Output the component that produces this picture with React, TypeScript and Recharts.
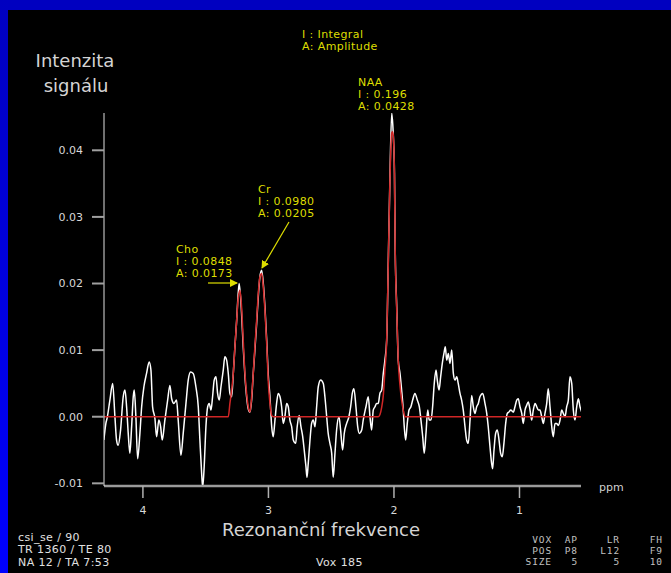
import { LineChart, Line, XAxis, YAxis } from "recharts";

// measured spectrum (white trace)
const specPpm = [
  4.311, 4.295, 4.284, 4.263, 4.241, 4.223, 4.21, 4.197, 4.178, 4.157,
  4.143, 4.13, 4.117, 4.104, 4.09, 4.077, 4.069, 4.056, 4.042, 4.024,
  4.01, 3.992, 3.971, 3.95, 3.936, 3.923, 3.904, 3.891, 3.873, 3.859,
  3.846, 3.825, 3.803, 3.785, 3.771, 3.753, 3.732, 3.719, 3.697, 3.679,
  3.657, 3.639, 3.62, 3.599, 3.578, 3.559, 3.546, 3.532, 3.524, 3.512,
  3.498, 3.484, 3.472, 3.458, 3.445, 3.432, 3.418, 3.405, 3.392, 3.378,
  3.36, 3.347, 3.333, 3.32, 3.307, 3.293, 3.28, 3.267, 3.253, 3.241,
  3.233, 3.214, 3.201, 3.187, 3.174, 3.161, 3.147, 3.134, 3.121, 3.108,
  3.094, 3.081, 3.068, 3.054, 3.041, 3.028, 3.014, 3.002, 2.988, 2.974,
  2.962, 2.948, 2.935, 2.922, 2.908, 2.895, 2.882, 2.869, 2.855, 2.842,
  2.829, 2.815, 2.802, 2.783, 2.771, 2.755, 2.741, 2.727, 2.715, 2.701,
  2.693, 2.683, 2.669, 2.656, 2.643, 2.629, 2.616, 2.603, 2.584, 2.563,
  2.55, 2.536, 2.524, 2.51, 2.496, 2.484, 2.47, 2.457, 2.438, 2.425,
  2.409, 2.396, 2.377, 2.359, 2.345, 2.332, 2.319, 2.303, 2.289, 2.276,
  2.257, 2.245, 2.223, 2.205, 2.191, 2.178, 2.165, 2.151, 2.138, 2.125,
  2.112, 2.098, 2.085, 2.072, 2.058, 2.045, 2.032, 2.018, 2.006, 1.996,
  1.99, 1.978, 1.966, 1.952, 1.939, 1.926, 1.918, 1.907, 1.894, 1.88,
  1.865, 1.851, 1.833, 1.814, 1.798, 1.785, 1.771, 1.759, 1.745, 1.731,
  1.719, 1.705, 1.692, 1.679, 1.665, 1.655, 1.641, 1.628, 1.615, 1.602,
  1.591, 1.58, 1.567, 1.554, 1.54, 1.527, 1.514, 1.5, 1.488, 1.474,
  1.461, 1.448, 1.434, 1.421, 1.408, 1.394, 1.381, 1.368, 1.355, 1.341,
  1.328, 1.315, 1.293, 1.275, 1.261, 1.249, 1.235, 1.222, 1.214, 1.203,
  1.19, 1.177, 1.163, 1.15, 1.137, 1.124, 1.11, 1.097, 1.084, 1.07,
  1.049, 1.036, 1.022, 1.01, 0.996, 0.982, 0.97, 0.956, 0.943, 0.93,
  0.916, 0.903, 0.89, 0.876, 0.863, 0.85, 0.837, 0.823, 0.81, 0.797,
  0.783, 0.771, 0.757, 0.743, 0.731, 0.717, 0.704, 0.691, 0.677, 0.664,
  0.651, 0.637, 0.624, 0.611, 0.598, 0.584, 0.571, 0.558, 0.544, 0.531,
  0.518, 0.504,
];

const specSignal = [
  -0.0035, -0.001, -0.0001, 0.0025, 0.005, 0.0, -0.0035, -0.0043, -0.002, 0.003,
  0.004, 0.0015, -0.0025, -0.0055, -0.0015, 0.003, 0.004, 0.0, -0.0063, -0.0025,
  0.0015, 0.0045, 0.0065, 0.0082, 0.007, 0.0015, -0.0003, -0.003, -0.0005, -0.0015,
  -0.0035, -0.0005, 0.0025, 0.0047, 0.0027, 0.002, 0.0025, -0.0005, -0.0058, -0.0025,
  0.002, 0.0055, 0.0067, 0.0065, 0.0045, 0.0015, -0.0035, -0.0085, -0.0106, -0.0075,
  -0.0015, 0.0015, 0.002, 0.001, 0.003, 0.0055, 0.006, 0.0035, 0.0025, 0.0045,
  0.007, 0.009, 0.0085, 0.0065, 0.0035, 0.003, 0.0065, 0.0105, 0.0145, 0.0185,
  0.02, 0.0155, 0.0105, 0.006, 0.003, 0.0012, 0.0007, 0.0025, 0.0065, 0.01,
  0.014, 0.018, 0.021, 0.022, 0.02, 0.0165, 0.0115, 0.0065, 0.003, -0.0015,
  -0.003, -0.0005, 0.002, 0.0035, 0.003, 0.0015, -0.001, 0.0, 0.002, 0.0015,
  -0.0005, -0.0015, -0.0035, -0.004, -0.0015, 0.0002, -0.0015, -0.003, -0.005, -0.0075,
  -0.0091, -0.007, -0.0035, -0.001, -0.0005, -0.0015, 0.0015, 0.0045, 0.0055, 0.005,
  0.003, 0.0, -0.0025, -0.004, -0.0055, -0.0091, -0.0055, -0.002, 0.0, -0.002,
  -0.005, -0.0025, -0.001, 0.0, 0.0015, 0.0035, 0.0042, 0.0015, -0.0015, -0.0025,
  -0.002, -0.0005, 0.0015, 0.003, 0.0, -0.002, 0.001, 0.0015, 0.002, 0.002,
  0.0035, 0.004, 0.0065, 0.0085, 0.0115, 0.0235, 0.036, 0.0456, 0.0426, 0.0366,
  0.025, 0.0165, 0.0085, 0.0065, 0.004, 0.001, -0.0015, -0.0035, -0.001, 0.001,
  0.0015, 0.0025, 0.0035, 0.0025, 0.0015, -0.0005, -0.003, -0.0055, -0.0025, 0.001,
  -0.0005, -0.0005, 0.0015, 0.005, 0.007, 0.0055, 0.004, 0.006, 0.008, 0.0095,
  0.0105, 0.0085, 0.0095, 0.008, 0.01, 0.0065, 0.0055, 0.006, 0.005, 0.0035,
  0.0025, 0.001, -0.0015, -0.0035, -0.004, -0.0005, 0.0032, 0.0015, 0.0005, 0.0015,
  0.002, 0.003, 0.0035, 0.002, 0.0005, -0.0015, -0.0045, -0.007, -0.0078, -0.005,
  -0.0025, -0.002, -0.0035, -0.0055, -0.006, -0.004, -0.001, 0.0005, 0.0007, 0.001,
  0.0007, 0.0015, 0.0025, 0.0027, 0.0015, 0.0005, -0.001, 0.001, 0.0017, 0.0022,
  0.001, -0.0005, 0.001, 0.002, 0.0015, 0.001, 0.001, 0.0, -0.001, 0.0005,
  0.002, 0.0042, 0.0015, -0.0015, -0.003, -0.001, -0.001, -0.0013, -0.0005, 0.001,
  0.0005, 0.0, 0.0015, 0.0025, 0.006, 0.005, 0.001, -0.0005, 0.0015, 0.0027,
  0.0015, 0.0007,
];

// fitted model (red trace)
const fitPpm = [
  4.311, 3.32, 3.307, 3.293, 3.28, 3.267, 3.253, 3.241, 3.227, 3.214,
  3.201, 3.187, 3.174, 3.161, 3.147, 3.134, 3.121, 3.108, 3.094, 3.081,
  3.068, 3.054, 3.041, 3.028, 3.014, 3.002, 2.988, 2.974, 2.962, 2.125,
  2.112, 2.098, 2.085, 2.072, 2.058, 2.045, 2.032, 2.018, 2.012, 2.006,
  1.996, 1.99, 1.978, 1.966, 1.952, 1.939, 1.926, 1.912, 0.504,
];
const fitSignal = [
  0, 0, 0.002, 0.004, 0.0065, 0.0105, 0.0145, 0.0178, 0.019, 0.0165,
  0.0115, 0.0065, 0.0035, 0.0015, 0.0007, 0.003, 0.0065, 0.0105, 0.0145, 0.0185,
  0.021, 0.0215, 0.0195, 0.016, 0.011, 0.0055, 0.002, 0.0002, 0, 0,
  0.0003, 0.0014, 0.0032, 0.007, 0.0115, 0.0232, 0.0356, 0.0426, 0.0428, 0.0423,
  0.0363, 0.025, 0.016, 0.0085, 0.0047, 0.0025, 0.001, 0, 0,
];

const xTicks = [1, 2, 3, 4];
const yTicks = [-0.01, 0, 0.01, 0.02, 0.03, 0.04];

const peakNames = ["Cho", "Cr", "NAA"];
const peakIntegrals = ["0.0848", "0.0980", "0.196"];
const peakAmplitudes = ["0.0173", "0.0205", "0.0428"];
const peakLabelPos = [
  { x: 176, y: 253 },
  { x: 258, y: 193 },
  { x: 358, y: 86 },
];

// voxel info table (bottom right)
const voxRows = [
  ["VOX", "AP", "LR", "FH"],
  ["POS", "P8", "L12", "F9"],
  ["SIZE", "5", "5", "10"],
];
const voxColX = [552, 578, 620, 663];
const voxRowY = [543, 554, 565];

const spectrum = specPpm.map((p, i) => ({ ppm: p, v: specSignal[i] }));
const fit = fitPpm.map((p, i) => ({ ppm: p, v: fitSignal[i] }));

const YELLOW = "#dede00";
const small = { fontFamily: "DejaVu Sans", fontSize: 11, letterSpacing: 0.4 };

export default function App() {
  return (
    <div style={{ position: "absolute", left: 0, top: 0, width: 671, height: 573, background: "#000", overflow: "hidden" }}>
      <div style={{ position: "absolute", left: 0, top: 0, width: 671, height: 10, background: "#0000c0" }} />
      <div style={{ position: "absolute", left: 0, top: 0, width: 8, height: 573, background: "linear-gradient(#0000c0, #0000ff)" }} />

      <LineChart
        width={671}
        height={573}
        style={{ position: "absolute", left: 0, top: 0 }}
        margin={{ top: 113, right: 90, bottom: 57, left: 64 }}
      >
        <XAxis
          type="number"
          dataKey="ppm"
          domain={[0.51, 4.31]}
          allowDataOverflow
          reversed
          ticks={xTicks}
          height={30}
          axisLine={{ stroke: "#9a9a9a", strokeWidth: 2.5 }}
          tickLine={{ stroke: "#b0b0b0", strokeWidth: 1.5 }}
          tickSize={12}
          tickMargin={8}
          tick={{ fill: "#d8d8d8", fontSize: 11, fontFamily: "DejaVu Sans" }}
        />
        <YAxis
          type="number"
          domain={[-0.0104, 0.0456]}
          allowDataOverflow
          ticks={yTicks}
          width={40}
          axisLine={{ stroke: "#e0e0e0", strokeWidth: 1 }}
          tickLine={{ stroke: "#a0a0a0", strokeWidth: 2 }}
          tickSize={12}
          tickMargin={9}
          tickFormatter={(v: number) => v.toFixed(2)}
          tick={{ fill: "#d8d8d8", fontSize: 11, fontFamily: "DejaVu Sans" }}
        />
        <Line data={spectrum} dataKey="v" type="monotone" stroke="#ffffff" strokeWidth={1.5} dot={false} isAnimationActive={false} />
        <Line data={fit} dataKey="v" type="monotone" stroke="#d02626" strokeWidth={1.5} dot={false} isAnimationActive={false} />
      </LineChart>

      <svg width={671} height={573} style={{ position: "absolute", left: 0, top: 0, pointerEvents: "none" }}>
        <defs>
          <marker id="arr" markerWidth="8" markerHeight="8" refX="7" refY="4" orient="auto" markerUnits="userSpaceOnUse">
            <path d="M0,0 L8,4 L0,8 Z" fill={YELLOW} />
          </marker>
        </defs>

        <g fill="#d4d4d4" fontFamily="DejaVu Sans" fontSize={18} textAnchor="middle">
          <text x={75} y={67}>Intenzita</text>
          <text x={76} y={92}>signálu</text>
          <text x={321} y={536}>Rezonanční frekvence</text>
        </g>

        <g fill={YELLOW} {...small}>
          <text x={302} y={38}>I : Integral</text>
          <text x={302} y={50}>A: Amplitude</text>
          {peakNames.map((n, i) => (
            <g key={n}>
              <text x={peakLabelPos[i].x} y={peakLabelPos[i].y}>{n}</text>
              <text x={peakLabelPos[i].x} y={peakLabelPos[i].y + 12}>I : {peakIntegrals[i]}</text>
              <text x={peakLabelPos[i].x} y={peakLabelPos[i].y + 24}>A: {peakAmplitudes[i]}</text>
            </g>
          ))}
        </g>
        <line x1={208} y1={283} x2={237} y2={283} stroke={YELLOW} strokeWidth={1.2} markerEnd="url(#arr)" />
        <line x1={289} y1={222} x2={262} y2={268} stroke={YELLOW} strokeWidth={1.2} markerEnd="url(#arr)" />

        <text x={599} y={491} fill="#d0d0d0" fontFamily="DejaVu Sans" fontSize={11}>ppm</text>

        <g fill="#e0e0e0" {...small}>
          <text x={18} y={541}>csi_se / 90</text>
          <text x={18} y={553}>TR 1360 / TE 80</text>
          <text x={18} y={566}>NA 12 / TA 7:53</text>
          <text x={316} y={566}>Vox 185</text>
        </g>
        <g fill="#c0c0c0" fontFamily="DejaVu Sans Mono" fontSize={9.5} letterSpacing={0.9} textAnchor="end">
          {voxRows.map((row, r) =>
            row.map((cell, c) => (
              <text key={`${r}-${c}`} x={voxColX[c]} y={voxRowY[r]}>{cell}</text>
            ))
          )}
        </g>
      </svg>
    </div>
  );
}
